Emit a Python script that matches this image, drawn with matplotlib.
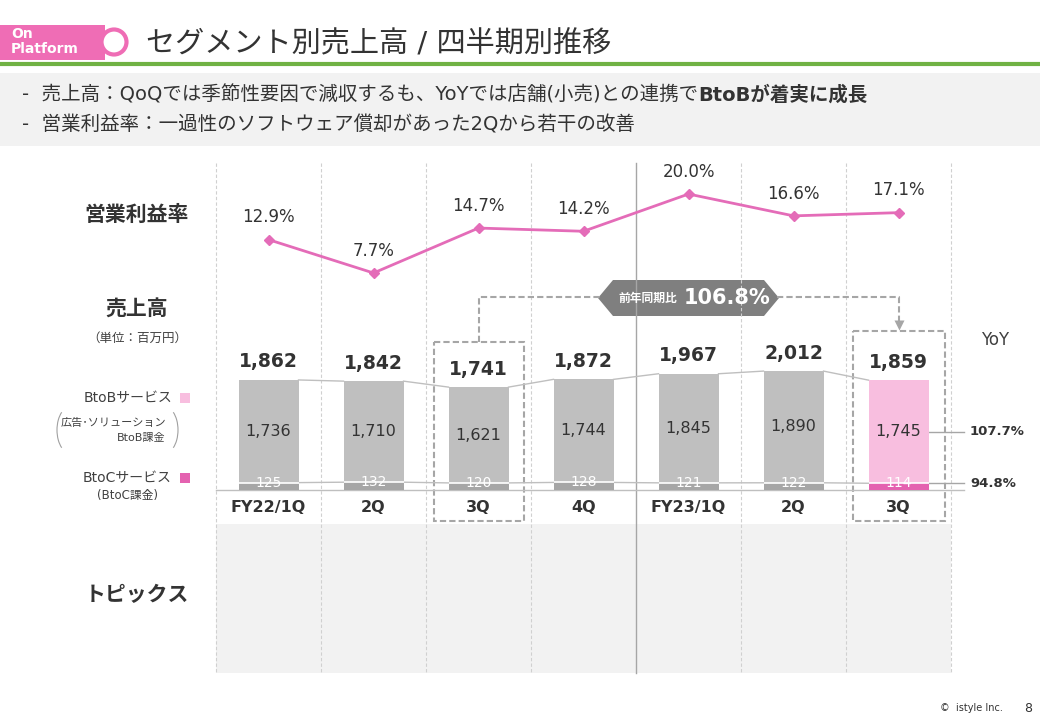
import numpy as np
import matplotlib.pyplot as plt
import matplotlib.patches as mpatches

plt.rcParams['font.family'] = ['DejaVu Sans', 'Noto Sans CJK JP']

# data
quarters = ['FY22/1Q', '2Q', '3Q', '4Q', 'FY23/1Q', '2Q', '3Q']
sales_total = [1862, 1842, 1741, 1872, 1967, 2012, 1859]
sales_btob = [1736, 1710, 1621, 1744, 1845, 1890, 1745]
sales_btoc = [125, 132, 120, 128, 121, 122, 114]
op_margin = [12.9, 7.7, 14.7, 14.2, 20.0, 16.6, 17.1]
yoy_btob = '107.7%'
yoy_btoc = '94.8%'
yoy_total = '106.8%'

W, H = 1040, 720
DARK = '#404040'
PINK = '#e462b0'
PINK_LIGHT = '#f8bedf'
GREY_LIGHT = '#bfbfbf'
GREY_DARK = '#a6a6a6'
LINE_PINK = '#e46cb8'

# layout of the chart area in pixels
X0, X1 = 216, 951
Y_TOP, Y_BOT = 163, 673
BASE_PX = 490          # zero line of the bars
SALES_PX = 0.0591      # pixels per million yen
MARGIN_REF, MARGIN_REF_PX, MARGIN_PX = 7.7, 273, 6.42
COL = (X1 - X0) / len(quarters)


def fig_rect(x0, y0, x1, y1):
    return [x0 / W, 1 - y1 / H, (x1 - x0) / W, (y1 - y0) / H]


def col_px(i):
    return X0 + COL * (i + 0.5)


fig = plt.figure(figsize=(10.4, 7.2), dpi=100)

# background / decoration layer in pixel coordinates
bg = fig.add_axes([0, 0, 1, 1])
bg.set_xlim(0, W)
bg.set_ylim(H, 0)
bg.axis('off')

# header
bg.add_patch(mpatches.Rectangle((0, 25), 105, 35, fc='#ef6db5', ec='none'))
bg.add_patch(mpatches.Circle((114, 42), 12.5, fc='white', ec='#ef6db5', lw=3))
bg.text(11, 34, 'On', color='white', fontsize=10, fontweight='bold', va='center')
bg.text(11, 49, 'Platform', color='white', fontsize=10, fontweight='bold', va='center')
bg.text(146, 44, 'セグメント別売上高 / 四半期別推移', color='#333333', fontsize=21, va='center')
bg.plot([0, W], [64, 64], color='#70b244', lw=3, solid_capstyle='butt')

# summary box
bg.add_patch(mpatches.Rectangle((0, 73), W, 73, fc='#f2f2f2', ec='none'))
t1 = bg.text(22, 95, '-  売上高：QoQでは季節性要因で減収するも、YoYでは店舗(小売)との連携で',
             color='#333333', fontsize=14, va='center')
bg.annotate('BtoBが着実に成長', xy=(1, 0), xycoords=t1, va='bottom', ha='left',
            color='#333333', fontsize=14, fontweight='bold')
bg.text(22, 125, '-  営業利益率：一過性のソフトウェア償却があった2Qから若干の改善',
        color='#333333', fontsize=14, va='center')

# topics area and column separators
bg.add_patch(mpatches.Rectangle((X0, 524), X1 - X0, Y_BOT - 524, fc='#f2f2f2', ec='none'))
for k in range(len(quarters) + 1):
    xk = X0 + COL * k
    if k == 4:
        bg.plot([xk, xk], [Y_TOP, Y_BOT], color=GREY_DARK, lw=1)
    else:
        bg.plot([xk, xk], [Y_TOP, Y_BOT], color='#d0d0d0', lw=0.8, ls=(0, (3, 2)))

# left labels
bg.text(137, 215, '営業利益率', color='#333333', fontsize=15, fontweight='bold', ha='center', va='center')
bg.text(137, 310, '売上高', color='#333333', fontsize=15, fontweight='bold', ha='center', va='center')
bg.text(137, 338, '（単位：百万円）', color=DARK, fontsize=9, ha='center', va='center')
bg.text(137, 595, 'トピックス', color='#333333', fontsize=15, fontweight='bold', ha='center', va='center')

bg.text(172, 398, 'BtoBサービス', color=DARK, fontsize=10, ha='right', va='center')
bg.add_patch(mpatches.Rectangle((180, 393), 10, 10, fc=PINK_LIGHT, ec='none'))
bg.text(166, 423, '広告･ソリューション', color=DARK, fontsize=8, ha='right', va='center')
bg.text(166, 438, 'BtoB課金', color=DARK, fontsize=8, ha='right', va='center')
bg.add_patch(mpatches.Arc((70, 430), 26, 46, theta1=115, theta2=245, color='#a0a0a0', lw=0.8))
bg.add_patch(mpatches.Arc((165, 430), 26, 46, theta1=-65, theta2=65, color='#a0a0a0', lw=0.8))
bg.text(172, 478, 'BtoCサービス', color=DARK, fontsize=10, ha='right', va='center')
bg.add_patch(mpatches.Rectangle((180, 473), 10, 10, fc=PINK, ec='none'))
bg.text(127, 495, '(BtoC課金)', color=DARK, fontsize=8.5, ha='center', va='center')

# dashed highlight boxes and YoY connector
dash = dict(color=GREY_DARK, lw=1.5, ls=(0, (3, 1.5)))
bg.add_patch(mpatches.Rectangle((col_px(2) - 45, 342), 90, 179, fill=False, ec=GREY_DARK,
                                lw=1.5, ls=(0, (3, 1.5))))
bg.add_patch(mpatches.Rectangle((col_px(6) - 46, 331), 92, 190, fill=False, ec=GREY_DARK,
                                lw=1.5, ls=(0, (3, 1.5))))
bg.plot([col_px(2), col_px(2), 600], [342, 297, 297], **dash)
bg.plot([777, col_px(6), col_px(6)], [297, 297, 321], **dash)
bg.plot(col_px(6), 325, marker='v', ms=7, color=GREY_DARK, mec='none')
bg.add_patch(mpatches.Polygon([(598, 298), (613, 280), (764, 280), (779, 298), (764, 316), (613, 316)],
                              fc='#7f7f7f', ec='none'))
bg.text(648, 298, '前年同期比', color='white', fontsize=8.5, fontweight='bold', ha='center', va='center')
bg.text(727, 298, yoy_total, color='white', fontsize=15, fontweight='bold', ha='center', va='center')

bg.text(995, 340, 'YoY', color=DARK, fontsize=12, ha='center', va='center')

# footer
bg.text(940, 708, '©  istyle Inc.', color='#333333', fontsize=7, va='center')
bg.text(1028, 708, '8', color='#333333', fontsize=9, ha='center', va='center')

# chart axes (bars)
ax = fig.add_axes(fig_rect(X0, Y_TOP, X1, Y_BOT))
ax.set_xlim(-0.5, len(quarters) - 0.5)
ax.set_ylim(-(Y_BOT - BASE_PX) / SALES_PX, (BASE_PX - Y_TOP) / SALES_PX)
ax.axis('off')

x = np.arange(len(quarters))
w = 60 / COL
btob_colors = [GREY_LIGHT] * (len(quarters) - 1) + [PINK_LIGHT]
btoc_colors = [GREY_DARK] * (len(quarters) - 1) + [PINK]
ax.bar(x, sales_btoc, width=w, color=btoc_colors, zorder=3)
ax.bar(x, sales_btob, width=w, bottom=sales_btoc, color=btob_colors, zorder=3)
ax.hlines(sales_btoc, x - w / 2, x + w / 2, color='white', lw=1.2, zorder=4)

# connectors between bars
for i in range(len(quarters) - 1):
    ax.plot([i + w / 2, i + 1 - w / 2], [sales_total[i], sales_total[i + 1]], color=GREY_LIGHT, lw=1)
    ax.plot([i + w / 2, i + 1 - w / 2], [sales_btoc[i], sales_btoc[i + 1]], color=GREY_LIGHT, lw=1)
ax.plot([-0.5, 6.62], [0, 0], color=GREY_LIGHT, lw=1, clip_on=False)

for i in x:
    ax.annotate(f'{sales_total[i]:,}', (i, sales_total[i]), xytext=(0, 13), textcoords='offset points',
                ha='center', va='center', fontsize=13.5, fontweight='bold', color='#333333')
    ax.text(i, sales_btoc[i] + sales_btob[i] / 2, f'{sales_btob[i]:,}', ha='center', va='center',
            fontsize=11.5, color='#333333', zorder=5)
    ax.text(i, sales_btoc[i], f'{sales_btoc[i]:,}', ha='center', va='center',
            fontsize=10, color='white', zorder=5)
    ax.text(i, -(507 - BASE_PX) / SALES_PX, quarters[i], ha='center', va='center',
            fontsize=11.5, fontweight='bold', color='#333333')

# YoY labels for the latest quarter
last = len(quarters) - 1
mid_btob = sales_btoc[last] + sales_btob[last] / 2
ax.plot([last + w / 2, 6.62], [mid_btob, mid_btob], color=GREY_DARK, lw=1, clip_on=False)
ax.plot([last + w / 2, 6.62], [sales_btoc[last], sales_btoc[last]], color=GREY_DARK, lw=1, clip_on=False)
ax.text(6.68, mid_btob, yoy_btob, ha='left', va='center', fontsize=9.5, fontweight='bold', color='#333333')
ax.text(6.68, sales_btoc[last], yoy_btoc, ha='left', va='center', fontsize=9.5, fontweight='bold', color='#333333')

# operating margin line
ax2 = ax.twinx()
ax2.set_ylim(MARGIN_REF - (Y_BOT - MARGIN_REF_PX) / MARGIN_PX,
             MARGIN_REF + (MARGIN_REF_PX - Y_TOP) / MARGIN_PX)
ax2.axis('off')
ax2.plot(x, op_margin, color=LINE_PINK, lw=2, marker='D', ms=5.5, zorder=3)
for i in x:
    ax2.annotate(f'{op_margin[i]:.1f}%', (i, op_margin[i]), xytext=(0, 16), textcoords='offset points',
                 ha='center', va='center', fontsize=12, color='#333333')

fig.savefig('out.png', dpi=100)
